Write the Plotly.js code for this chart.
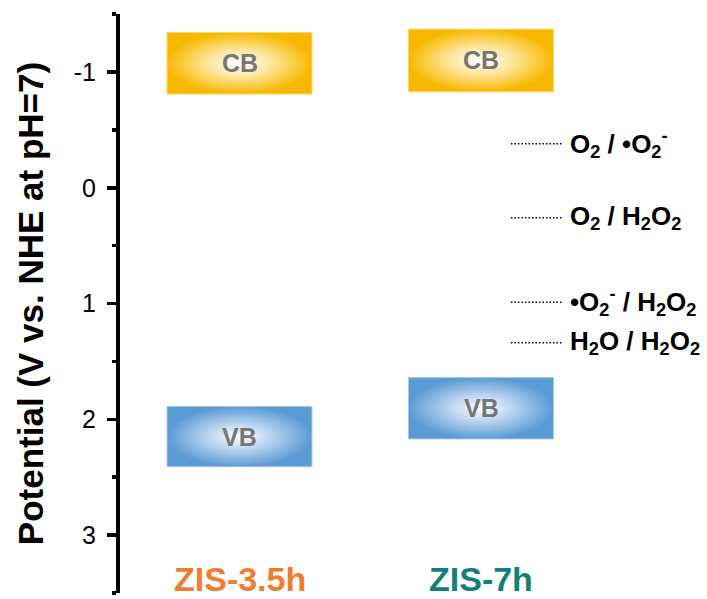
<!DOCTYPE html>
<html>
<head>
<meta charset="utf-8">
<script src="https://cdn.plot.ly/plotly-3.0.1.min.js"></script>
<style>
  html, body { margin: 0; padding: 0; background: #ffffff; }
  #chart { width: 707px; height: 599px; }
</style>
</head>
<body>
<div id="chart"></div>
<script>
// Band-edge positions (V vs. NHE at pH=7) for the two ZnIn2S4 samples
const samples = ['ZIS-3.5h', 'ZIS-7h'];
const sampleColors = ['#ED7D31', '#138078'];
const cbTop = [-1.34, -1.37];
const cbBottom = [-0.81, -0.83];
const vbTop = [1.89, 1.64];
const vbBottom = [2.41, 2.17];

// Redox potentials of the oxygen / peroxide couples
const redoxLabels = [
  'O<sub>2</sub> / \u2022O<sub>2</sub><sup>-</sup>',
  'O<sub>2</sub> / H<sub>2</sub>O<sub>2</sub>',
  '\u2022O<sub>2</sub><sup>-</sup> / H<sub>2</sub>O<sub>2</sub>',
  'H<sub>2</sub>O / H<sub>2</sub>O<sub>2</sub>'
];
const redoxPotentials = [-0.38, 0.26, 0.99, 1.34];

const yTicks = [-1, 0, 1, 2, 3];
const yTickText = yTicks.map(String);

const FONT = 'Liberation Sans, Arial, Helvetica, sans-serif';
const halfWidth = 0.3;
const lineStart = 1.124, lineEnd = 1.338, labelX = 1.362;

const bandStyles = {
  CB: { mid: '#FDE59A', edge: '#F7B900', border: '#FBD35A' },
  VB: { mid: '#B7D2EE', edge: '#5B9BD5', border: '#A9C4EC' }
};

const traces = [];
const annotations = [];

function addBand(i, top, bottom, name) {
  const x0 = i - halfWidth, x1 = i + halfWidth;
  const st = bandStyles[name];
  traces.push({
    type: 'scatter',
    mode: 'lines',
    x: [x0, x1, x1, x0, x0],
    y: [top, top, bottom, bottom, top],
    fill: 'toself',
    fillcolor: st.edge,
    fillgradient: {
      type: 'radial',
      colorscale: [[0, '#ffffff'], [0.45, st.mid], [1, st.edge]]
    },
    line: { color: st.border, width: 1 },
    hoverinfo: 'skip',
    showlegend: false
  });
  annotations.push({
    x: i, y: (top + bottom) / 2, xref: 'x', yref: 'y',
    text: name, showarrow: false,
    font: { family: FONT, size: 25, color: '#767676', weight: 'bold' },
    xanchor: 'center', yanchor: 'middle'
  });
}

samples.forEach((s, i) => {
  addBand(i, cbTop[i], cbBottom[i], 'CB');
  addBand(i, vbTop[i], vbBottom[i], 'VB');
  annotations.push({
    x: i, y: 3.38, xref: 'x', yref: 'y',
    text: s, showarrow: false,
    font: { family: FONT, size: 34, color: sampleColors[i], weight: 'bold' },
    xanchor: 'center', yanchor: 'middle'
  });
});

redoxPotentials.forEach((p, k) => {
  traces.push({
    type: 'scatter',
    mode: 'lines',
    x: [lineStart, lineEnd],
    y: [p, p],
    line: { color: '#000000', width: 1.5, dash: '1.5px,2px' },
    hoverinfo: 'skip',
    showlegend: false
  });
  annotations.push({
    x: labelX, y: p, xref: 'x', yref: 'y',
    text: redoxLabels[k], showarrow: false,
    font: { family: FONT, size: 26, color: '#000000', weight: 'bold' },
    xanchor: 'left', yanchor: 'middle'
  });
});

const layout = {
  width: 707,
  height: 599,
  margin: { l: 120, r: 0, t: 14, b: 6, pad: 0 },
  paper_bgcolor: '#ffffff',
  plot_bgcolor: '#ffffff',
  showlegend: false,
  font: { family: FONT, color: '#000000' },
  xaxis: {
    range: [-0.4948, 1.9358],
    visible: false,
    fixedrange: true
  },
  yaxis: {
    range: [3.501, -1.501],
    tickmode: 'array',
    tickvals: yTicks,
    ticktext: yTickText,
    tickfont: { family: FONT, size: 25, color: '#000000' },
    ticklabelstandoff: 6,
    showline: true,
    linecolor: '#000000',
    linewidth: 4,
    ticks: 'outside',
    ticklen: 9,
    tickwidth: 3.5,
    tickcolor: '#000000',
    showgrid: false,
    zeroline: false,
    minor: {
      dtick: 0.5,
      tick0: 0,
      ticks: 'outside',
      ticklen: 4,
      tickwidth: 3.5,
      tickcolor: '#000000',
      showgrid: false
    },
    title: {
      text: 'Potential (V vs. NHE at pH=7)',
      font: { family: FONT, size: 35, color: '#000000', weight: 'bold' },
      standoff: 21
    },
    fixedrange: true
  },
  annotations: annotations
};

Plotly.newPlot('chart', traces, layout, { displayModeBar: false, staticPlot: true });
</script>
</body>
</html>
